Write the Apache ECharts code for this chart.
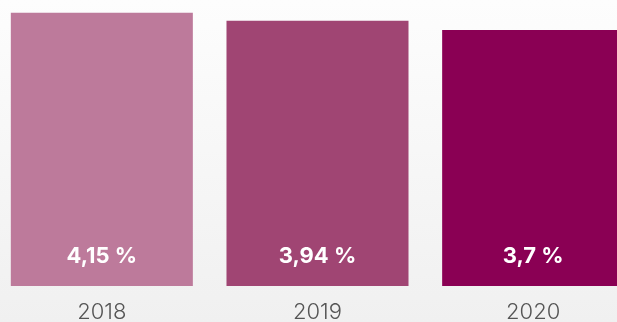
<!DOCTYPE html>
<html>
<head>
<meta charset="utf-8">
<script src="https://cdn.jsdelivr.net/npm/echarts@6/dist/echarts.min.js"></script>
<style>
html,body{margin:0;padding:0;}
#main{width:617px;height:322px;}
</style>
</head>
<body>
<div id="main"></div>
<script>
var years = ['2018', '2019', '2020'];
var rates = [4.15, 3.94, 3.7];
var barColors = ['#bd7a9b', '#a04573', '#8a0054'];

// axis range (bars do not start at zero)
var yMin = -3.07;
var yMax = 4.49;

function fmt(v){
	return String(v).replace('.', ',') + ' %';
}

var chart = echarts.init(document.getElementById('main'));

var option = {
	backgroundColor: new echarts.graphic.LinearGradient(0, 0, 0, 1, [
		{offset: 0, color: '#fdfdfd'},
		{offset: 1, color: '#f0f0f0'}
	]),
	grid: {left: -6, right: -24, top: 0, bottom: 36, outerBoundsMode: 'none'},
	xAxis: {
		type: 'category',
		data: years,
		axisLine: {show: false},
		axisTick: {show: false},
		axisLabel: {
			color: '#555',
			fontFamily: 'Inter',
			fontWeight: 300,
			fontSize: 22,
			margin: 15
		}
	},
	yAxis: {
		type: 'value',
		min: yMin,
		max: yMax,
		show: false,
		splitLine: {show: false}
	},
	series: [{
		type: 'custom',
		data: rates.map(function(v, i){ return [i, v]; }),
		encode: {x: 0, y: 1},
		renderItem: function(params, api){
			var idx = api.value(0);
			var top = api.coord([idx, api.value(1)]);
			var bottom = api.coord([idx, yMin]);
			var w = api.size([1, 0])[0] * 0.844;
			return {
				type: 'rect',
				shape: {x: top[0] - w / 2, y: top[1], width: w, height: bottom[1] - top[1]},
				style: {fill: barColors[idx]},
				textContent: {
					style: {
						text: fmt(api.value(1)),
						fill: '#fff',
						fontFamily: 'Inter',
						fontWeight: 700,
						fontSize: 22
					}
				},
				textConfig: {position: 'insideBottom', distance: 19}
			};
		}
	}]
};
chart.setOption(option);
</script>
</body>
</html>
